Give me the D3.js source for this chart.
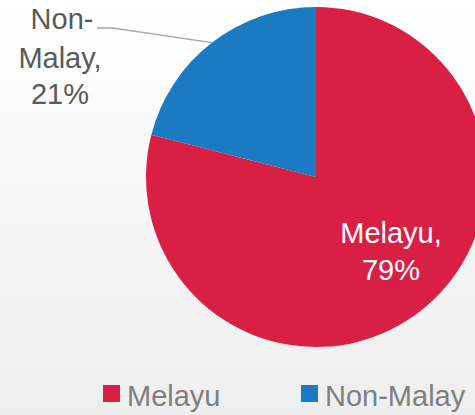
<!DOCTYPE html>
<html>
<head>
<meta charset="utf-8">
<script src="https://cdn.jsdelivr.net/npm/d3@7"></script>
<style>
  html, body { margin: 0; padding: 0; }
  svg { display: block; font-family: "Liberation Sans", Arial, sans-serif; }
</style>
</head>
<body>
<svg id="chart"></svg>
<script>
// chart data
var categories = ['Melayu', 'Non-Malay']
var values = [79, 21]
var colors = ['#DA1F45', '#1A7BC3']

var width = 475
var height = 415

var svg = d3.select('#chart')
  .attr('width', width)
  .attr('height', height)

// soft grey gradient behind everything
var grad = svg.append('defs').append('linearGradient')
  .attr('id', 'bg')
  .attr('x1', 0).attr('y1', 0)
  .attr('x2', 0).attr('y2', 1)
grad.append('stop').attr('offset', '0%').attr('stop-color', '#ffffff')
grad.append('stop').attr('offset', '100%').attr('stop-color', '#eeeeee')

svg.append('rect')
  .attr('width', width)
  .attr('height', height)
  .attr('fill', 'url(#bg)')

var cx = 316, cy = 177, radius = 170

var data = categories.map((c, i) => ({ name: c, value: values[i] }))

var pie = d3.pie()
  .sort(null)
  .value(d => d.value)

var arc = d3.arc()
  .innerRadius(0)
  .outerRadius(radius)

var arcs = pie(data)

var g = svg.append('g')
  .attr('transform', 'translate(' + cx + ',' + cy + ')')

g.selectAll('path')
  .data(arcs)
  .enter().append('path')
  .attr('d', arc)
  .attr('fill', (d, i) => colors[i])

// label inside the big slice
var inside = g.append('text')
  .attr('fill', '#ffffff')
  .attr('font-size', 29)
  .attr('text-anchor', 'middle')
inside.append('tspan').attr('x', 75).attr('y', 66).text(arcs[0].data.name + ',')
inside.append('tspan').attr('x', 75).attr('y', 103).text(arcs[0].data.value + '%')

// label outside the small slice, with leader line
var mid = (arcs[1].startAngle + arcs[1].endAngle) / 2
var edge = [Math.sin(mid) * radius, -Math.cos(mid) * radius]

g.append('polyline')
  .attr('points', [[edge[0], edge[1]], [-203, -149], [-219, -149]].map(p => p.join(',')).join(' '))
  .attr('fill', 'none')
  .attr('stroke', '#A6A6A6')
  .attr('stroke-width', 1.3)

var outside = g.append('text')
  .attr('fill', '#595959')
  .attr('font-size', 29)
  .attr('text-anchor', 'middle')
var parts = arcs[1].data.name.split('-')
outside.append('tspan').attr('x', -254).attr('y', -148).text(parts[0] + '-')
outside.append('tspan').attr('x', -256).attr('y', -109).text(parts[1] + ',')
outside.append('tspan').attr('x', -256).attr('y', -73).text(arcs[1].data.value + '%')

// legend
var legendX = [103, 301]
var legend = svg.append('g')
  .selectAll('g')
  .data(categories)
  .enter().append('g')
  .attr('transform', (d, i) => 'translate(' + legendX[i] + ',385)')

legend.append('rect')
  .attr('width', 17)
  .attr('height', 17)
  .attr('fill', (d, i) => colors[i])

legend.append('text')
  .attr('x', 24)
  .attr('y', 21)
  .attr('font-size', 29)
  .attr('fill', '#7F7F7F')
  .text(d => d)
</script>
</body>
</html>
